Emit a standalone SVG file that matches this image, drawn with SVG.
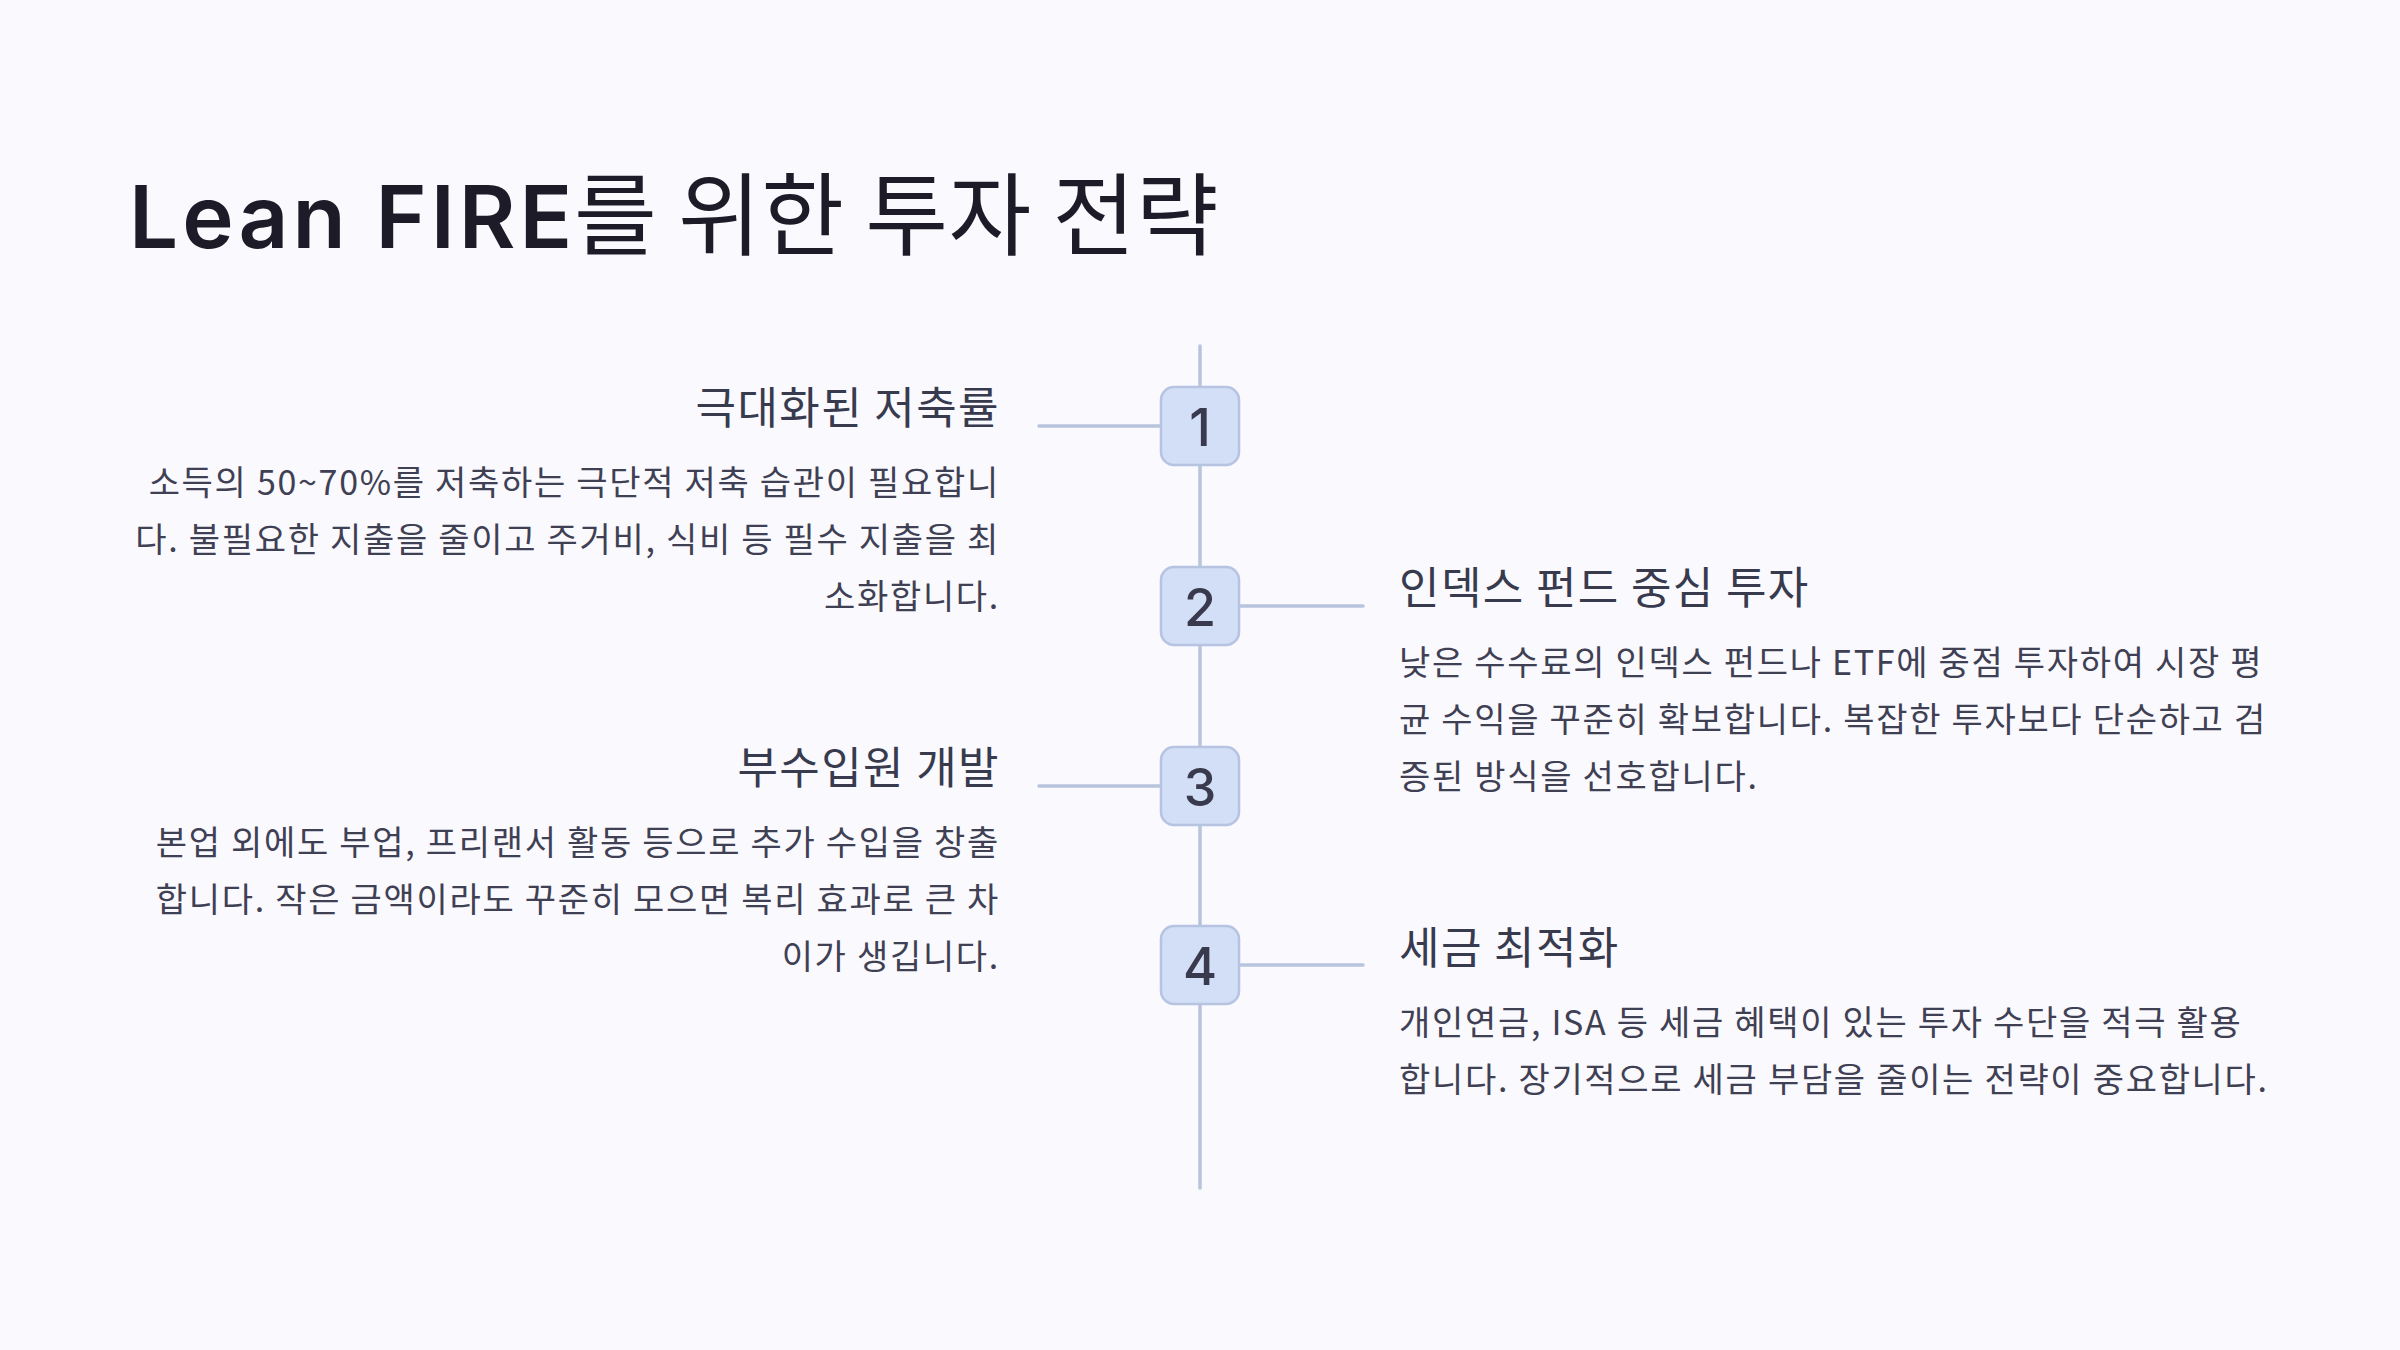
<svg xmlns="http://www.w3.org/2000/svg" width="2400" height="1350" viewBox="0 0 2400 1350">
<style>
.title{font-family:"Inter","Noto Sans CJK KR",sans-serif;font-size:87px;font-weight:600;fill:#1C1B27}
.titlek{font-family:"Noto Sans CJK KR",sans-serif;font-weight:400;font-size:90px;letter-spacing:0.5px}
.head{font-family:"Noto Sans CJK KR",sans-serif;font-size:44px;letter-spacing:1.4px;fill:#383A4E}
.body{font-family:"Noto Sans CJK KR",sans-serif;font-size:34px;letter-spacing:1.7px;fill:#3F4053}
.l{text-anchor:end}
.box{fill:#D3DEF7;stroke:#B6C3E1;stroke-width:2.5}
.num{font-family:"Inter","Noto Sans",sans-serif;font-size:52px;font-weight:500;fill:#393A4E;text-anchor:middle}
.conn{stroke:#B8C3DD;stroke-width:3.5;stroke-linecap:round;fill:none}
</style>
<rect width="2400" height="1350" fill="#F9F9FE"/>
<text class="title" x="129" y="248"><tspan letter-spacing="4">Lean FIRE</tspan><tspan class="titlek" x="574">를 위한 투자 전략</tspan></text>
<g id="connectors">
<line class="conn" x1="1200" y1="346" x2="1200" y2="1188"/>
<line class="conn" x1="1039" y1="426" x2="1161" y2="426"/>
<line class="conn" x1="1239" y1="606" x2="1363" y2="606"/>
<line class="conn" x1="1039" y1="786" x2="1161" y2="786"/>
<line class="conn" x1="1239" y1="965" x2="1363" y2="965"/>
</g>
<g id="step1">
<rect class="box" x="1161" y="387" width="78" height="78" rx="13"/>
<text class="num" x="1200" y="446">1</text>
<text class="head l" x="1000" y="424">극대화된 저축률</text>
<text class="body l"><tspan x="1000" y="495">소득의 50~70%를 저축하는 극단적 저축 습관이 필요합니</tspan><tspan x="1000" y="552">다. 불필요한 지출을 줄이고 주거비, 식비 등 필수 지출을 최</tspan><tspan x="1000" y="609">소화합니다.</tspan></text>
</g>
<g id="step2">
<rect class="box" x="1161" y="567" width="78" height="78" rx="13"/>
<text class="num" x="1200" y="626">2</text>
<text class="head" x="1399" y="604">인덱스 펀드 중심 투자</text>
<text class="body"><tspan x="1399" y="675">낮은 수수료의 인덱스 펀드나 ETF에 중점 투자하여 시장 평</tspan><tspan x="1399" y="732">균 수익을 꾸준히 확보합니다. 복잡한 투자보다 단순하고 검</tspan><tspan x="1399" y="789">증된 방식을 선호합니다.</tspan></text>
</g>
<g id="step3">
<rect class="box" x="1161" y="747" width="78" height="78" rx="13"/>
<text class="num" x="1200" y="806">3</text>
<text class="head l" x="1000" y="784">부수입원 개발</text>
<text class="body l"><tspan x="1000" y="855">본업 외에도 부업, 프리랜서 활동 등으로 추가 수입을 창출</tspan><tspan x="1000" y="912">합니다. 작은 금액이라도 꾸준히 모으면 복리 효과로 큰 차</tspan><tspan x="1000" y="969">이가 생깁니다.</tspan></text>
</g>
<g id="step4">
<rect class="box" x="1161" y="926" width="78" height="78" rx="13"/>
<text class="num" x="1200" y="985">4</text>
<text class="head" x="1399" y="964">세금 최적화</text>
<text class="body"><tspan x="1399" y="1035">개인연금, ISA 등 세금 혜택이 있는 투자 수단을 적극 활용</tspan><tspan x="1399" y="1092">합니다. 장기적으로 세금 부담을 줄이는 전략이 중요합니다.</tspan></text>
</g>
</svg>
